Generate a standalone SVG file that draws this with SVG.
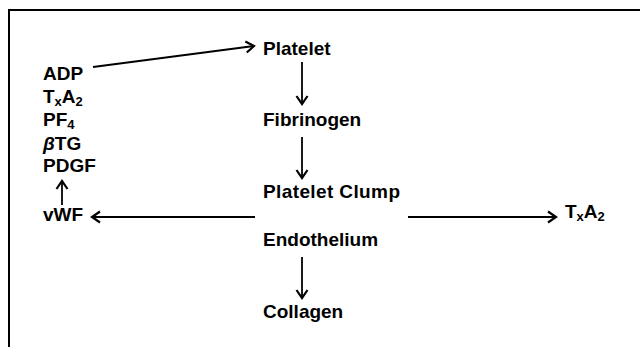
<svg xmlns="http://www.w3.org/2000/svg" width="640" height="347" viewBox="0 0 640 347">
<defs>
<marker id="ah" viewBox="-10 -7 12 14" refX="0" refY="0" markerWidth="12" markerHeight="14" markerUnits="userSpaceOnUse" orient="auto">
<path d="M-8,-5.5 L0,0 L-8,5.5" fill="none" stroke="#000" stroke-width="2.2" stroke-linejoin="miter"/>
</marker>
<style>
text{font-family:"Liberation Sans",Arial,Helvetica,sans-serif;font-weight:bold;font-size:19px;fill:#000}
.c{stroke:#000;stroke-width:1.8;fill:none;marker-end:url(#ah)}
.sub{font-size:13px}
</style>
</defs>
<rect width="640" height="347" fill="#fff"/>
<path d="M9,347 V10 H640" fill="none" stroke="#000" stroke-width="2"/>
<g id="connectors">
<line class="c" x1="93" y1="67" x2="254" y2="46"/>
<line class="c" x1="302" y1="62" x2="302" y2="104"/>
<line class="c" x1="302" y1="137" x2="302" y2="178"/>
<line class="c" x1="255" y1="217" x2="92" y2="217"/>
<line class="c" x1="408" y1="217" x2="556" y2="217"/>
<line class="c" x1="302" y1="257" x2="302" y2="298"/>
<line class="c" x1="62" y1="205" x2="62" y2="181"/>
</g>
<g id="platelet"><text x="263" y="55">Platelet</text></g>
<g id="fibrinogen"><text x="263" y="126">Fibrinogen</text></g>
<g id="platelet-clump"><text x="263" y="198" textLength="137" lengthAdjust="spacing">Platelet Clump</text></g>
<g id="endothelium"><text x="263" y="246">Endothelium</text></g>
<g id="collagen"><text x="263" y="318">Collagen</text></g>
<g id="adp"><text x="43" y="80">ADP</text></g>
<g id="txa2-left"><text x="43" y="103">T<tspan class="sub" dy="3">x</tspan><tspan dy="-3">A</tspan><tspan class="sub" dy="3">2</tspan></text></g>
<g id="pf4"><text x="43" y="126">PF<tspan class="sub" dy="3">4</tspan></text></g>
<g id="btg"><text x="43" y="150"><tspan font-style="italic">β</tspan>TG</text></g>
<g id="pdgf"><text x="43" y="172">PDGF</text></g>
<g id="vwf"><text x="43" y="221">vWF</text></g>
<g id="txa2-right"><text x="565" y="218">T<tspan class="sub" dy="3">x</tspan><tspan dy="-3">A</tspan><tspan class="sub" dy="3">2</tspan></text></g>
</svg>
